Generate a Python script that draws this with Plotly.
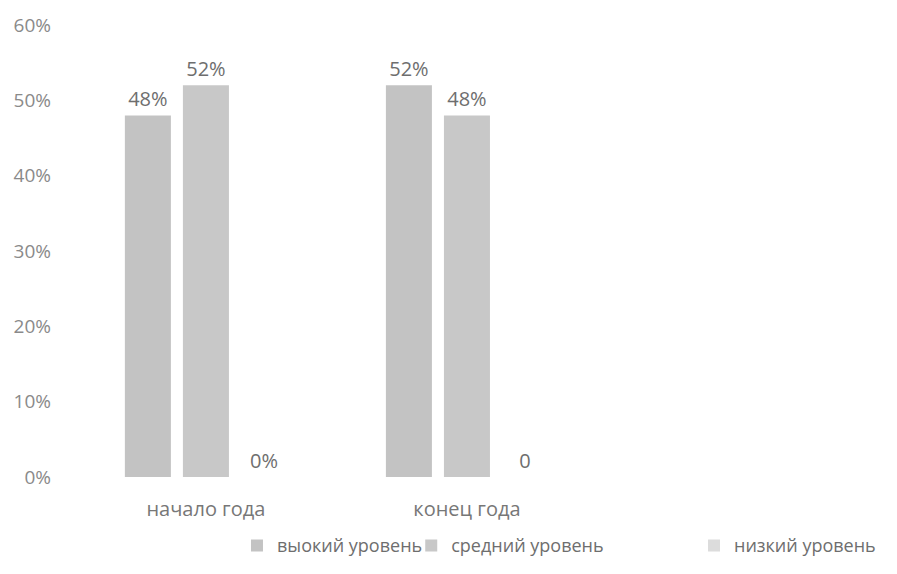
import plotly.graph_objects as go

categories = ["начало года", "конец года"]
series_names = ["выокий уровень", "средний уровень", "низкий уровень"]
high_vals = [48, 52]
mid_vals = [52, 48]
low_vals = [0, 0]
high_text = ["48%", "52%"]
mid_text = ["52%", "48%"]
low_text = ["0%", "0"]
tick_vals = [0, 10, 20, 30, 40, 50, 60]
tick_text = ["0%", "10%", "20%", "30%", "40%", "50%", "60%"]

bar_colors = ["#c3c3c3", "#c8c8c8", "#dcdcdc"]
legend_x = [0.208, 0.42, 0.764]

font_family = "Open Sans"
txt_color = "#777777"

fig = go.Figure()
for i, (name, vals, txt, col) in enumerate(zip(series_names, [high_vals, mid_vals, low_vals],
                                [high_text, mid_text, low_text], bar_colors)):
    fig.add_trace(go.Bar(
        name=name, x=categories, y=vals, text=txt,
        textposition="outside", cliponaxis=False,
        textfont=dict(size=20, color="#6e6e6e", family=font_family),
        marker=dict(color=col, line=dict(width=0)),
        legend="legend" if i == 0 else f"legend{i+1}",
    ))

leg_common = dict(orientation="h", xanchor="left", y=-0.152, yanchor="middle",
                  font=dict(size=18, color="#6e6e6e"), itemwidth=30,
                  bgcolor="rgba(0,0,0,0)")

fig.update_layout(
    width=897, height=574,
    margin=dict(l=58, r=17, t=17, b=105, autoexpand=False),
    paper_bgcolor="white", plot_bgcolor="white",
    barmode="group", bargap=0.333, bargroupgap=0.207,
    font=dict(family=font_family, size=17, color=txt_color),
    xaxis=dict(range=[-0.536, 2.613], showgrid=False, showline=False,
               zeroline=False, ticks="", ticklabelstandoff=18, automargin=False,
               tickfont=dict(size=20, color=txt_color)),
    yaxis=dict(range=[0, 60], tickvals=tick_vals, ticktext=tick_text,
               showgrid=False, showline=False, zeroline=False, ticks="",
               ticklabelstandoff=14, automargin=False,
               tickfont=dict(size=19, color="#8a8a8a")),
    legend=dict(x=legend_x[0], **leg_common),
    legend2=dict(x=legend_x[1], **leg_common),
    legend3=dict(x=legend_x[2], **leg_common),
    showlegend=True,
)

fig.write_html("out.html")
